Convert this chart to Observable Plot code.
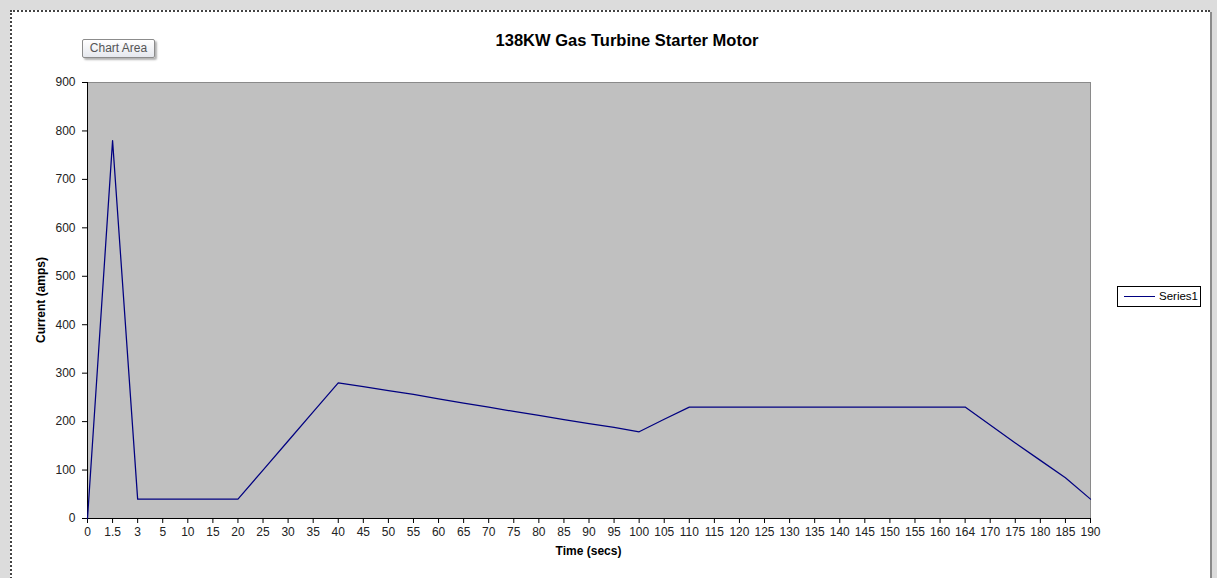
<!DOCTYPE html>
<html>
<head>
<meta charset="utf-8">
<script src="https://cdn.jsdelivr.net/npm/d3@7"></script>
<script src="https://cdn.jsdelivr.net/npm/@observablehq/plot@0.6"></script>
<style>
  html, body { margin: 0; padding: 0; }
  body { width: 1217px; height: 578px; background: #dcdcdc; position: relative; overflow: hidden; font-family: "Liberation Sans", Arial, sans-serif; }
  #sheet { position: absolute; left: 10px; top: 10px; width: 1200px; height: 600px; background: #fff; border-left: 2px dotted #444; border-top: 2px dotted #444; box-sizing: border-box; }
  #rightline { position: absolute; left: 1210px; top: 12px; width: 2px; height: 580px; background: #8a8a8a; }
  #chart { position: absolute; left: 0; top: 0; }
  .title { position: absolute; left: 0; width: 1254px; top: 31px; text-align: center; font-weight: bold; font-size: 16.5px; color: #000; }
  .xtitle { position: absolute; left: 0; width: 1177px; top: 544px; text-align: center; font-weight: bold; font-size: 12px; color: #000; }
  .ytitle { position: absolute; left: 41px; top: 300px; transform: translate(-50%, -50%) rotate(-90deg); white-space: nowrap; font-weight: bold; font-size: 12px; color: #000; }
  .legend { position: absolute; left: 1117px; top: 286px; width: 84px; height: 21px; border: 1px solid #000; box-sizing: border-box; background: #fff; font-size: 11.5px; }
  .legend .ln { position: absolute; left: 6px; top: 9px; width: 31px; height: 1px; background: #000080; }
  .legend .tx { position: absolute; left: 41px; top: 3px; color: #000; }
  .tip { position: absolute; left: 82px; top: 39px; width: 73px; height: 19px; border: 1px solid #8c8c8c; border-radius: 2px; box-sizing: border-box; background: linear-gradient(#ffffff, #e6e8ee); box-shadow: 2px 2px 2px rgba(0,0,0,0.3); font-size: 12px; color: #555; text-align: center; line-height: 17px; }
</style>
</head>
<body>
<div id="sheet"></div>
<div id="rightline"></div>
<div id="chart"></div>
<div class="title">138KW Gas Turbine Starter Motor</div>
<div class="xtitle">Time (secs)</div>
<div class="ytitle">Current (amps)</div>
<div class="legend"><div class="ln"></div><div class="tx">Series1</div></div>
<div class="tip">Chart Area</div>
<script>
const categories = ["0","1.5","3","5","10","15","20","25","30","35","40","45","50","55","60","65","70","75","80","85","90","95","100","105","110","115","120","125","130","135","140","145","150","155","160","164","170","175","180","185","190"];
const series1 = [0,780,40,40,40,40,40,100,160,220,280,272,264,256,247,238,230,221,213,204,196,188,179,205,230,230,230,230,230,230,230,230,230,230,230,230,193,156,120,84,40];
const yTicks = [0,100,200,300,400,500,600,700,800,900];

const data = categories.map((c, i) => ({time: c, amps: series1[i]}));

const chart = Plot.plot({
  width: 1217,
  height: 578,
  marginLeft: 87,
  marginRight: 127,
  marginTop: 82,
  marginBottom: 60,
  style: {background: "transparent", fontFamily: "'Liberation Sans', Arial, sans-serif", fontSize: "12px", color: "#222"},
  x: {type: "point", domain: categories, padding: 0, round: false, label: null},
  y: {domain: [0, 900], label: null},
  marks: [
    Plot.frame({fill: "#c0c0c0", stroke: "#8a8a8a"}),
    Plot.axisX({ticks: categories, tickSize: 5, tickPadding: 4, fontSize: 12, label: null, stroke: "#000"}),
    Plot.axisY({ticks: yTicks, tickSize: 5, tickPadding: 7, fontSize: 12, label: null, stroke: "#000"}),
    Plot.ruleY([0], {stroke: "#000"}),
    Plot.ruleX([categories[0]], {stroke: "#000"}),
    Plot.line(data, {x: "time", y: "amps", stroke: "#000080", strokeWidth: 1.25})
  ]
});
document.getElementById("chart").appendChild(chart);
</script>
</body>
</html>
